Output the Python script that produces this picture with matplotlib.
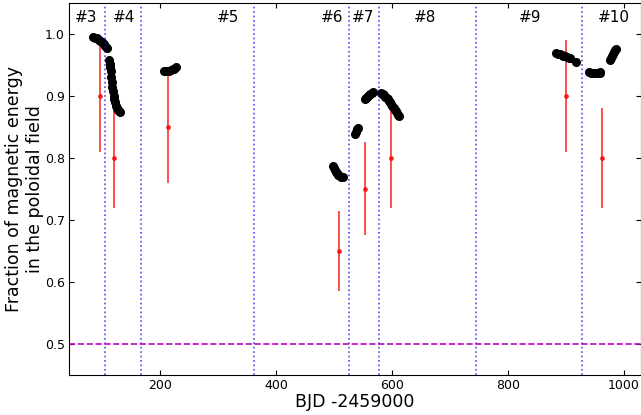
import numpy as np
import matplotlib
matplotlib.use('Agg')
import matplotlib.pyplot as plt

# black points, one pair of lists per season
x3 = [85, 88, 91, 94, 97, 100, 103, 106, 108]
y3 = [0.995, 0.994, 0.993, 0.991, 0.989, 0.987, 0.984, 0.980, 0.977]
x4 = [112, 113, 114, 115, 116, 117, 118, 119, 120, 121, 122, 124, 126, 128, 130, 131]
y4 = [0.958, 0.952, 0.946, 0.940, 0.930, 0.922, 0.915, 0.908, 0.900, 0.895, 0.890,
      0.884, 0.880, 0.877, 0.875, 0.874]
x5 = [207, 210, 213, 216, 219, 222, 225, 228]
y5 = [0.941, 0.941, 0.941, 0.941, 0.942, 0.943, 0.944, 0.946]
x6 = [498, 500, 502, 504, 506, 508, 510, 512, 515]
y6 = [0.787, 0.784, 0.781, 0.778, 0.775, 0.772, 0.771, 0.770, 0.770]
x7 = [536, 538, 540, 541, 553, 555, 557, 559, 561, 563, 565, 567]
y7 = [0.838, 0.842, 0.846, 0.848, 0.895, 0.897, 0.899, 0.900, 0.902, 0.903, 0.905, 0.906]
x8 = [581, 583, 585, 587, 589, 591, 593, 595, 597, 599, 601, 603, 605, 607, 609, 611, 612]
y8 = [0.905, 0.904, 0.903, 0.901, 0.899, 0.897, 0.895, 0.892, 0.890, 0.887, 0.884,
      0.881, 0.878, 0.875, 0.872, 0.869, 0.868]
x9 = [884, 887, 890, 893, 896, 899, 902, 905, 907, 917]
y9 = [0.969, 0.968, 0.967, 0.966, 0.965, 0.964, 0.963, 0.962, 0.961, 0.955]
x10 = [941, 944, 947, 950, 953, 956, 959, 960, 976, 978, 980, 982, 984, 986, 987]
y10 = [0.938, 0.937, 0.937, 0.937, 0.937, 0.937, 0.937, 0.938, 0.958, 0.962, 0.965,
       0.968, 0.971, 0.974, 0.976]

# red mean values with error bars
xm = [97, 121, 214, 509, 553, 598, 901, 963]
ym = [0.90, 0.80, 0.85, 0.65, 0.75, 0.80, 0.90, 0.80]
em = [0.09, 0.08, 0.09, 0.065, 0.075, 0.08, 0.09, 0.08]

# season boundaries and labels
bounds = [106, 168, 362, 526, 578, 746, 929]
labels = ['#3', '#4', '#5', '#6', '#7', '#8', '#9', '#10']
label_x = [72, 138, 317, 497, 550, 657, 838, 984]

fig = plt.figure(figsize=(6.41, 4.15), dpi=100)
ax = fig.add_axes([0.1076, 0.0964, 0.8924, 0.8964])

ax.errorbar(xm, ym, yerr=em, fmt='.', color='r', ms=5, lw=1.3, alpha=0.75, capsize=0)

for xs, ys in [(x3, y3), (x4, y4), (x5, y5), (x6, y6), (x7, y7), (x8, y8), (x9, y9), (x10, y10)]:
    ax.plot(xs, ys, 'o', color='k', ms=5.5)

for b in bounds:
    ax.axvline(b, color='b', ls=':', lw=1.2, alpha=0.7)
ax.axhline(0.5, color='m', ls='--', lw=1.2)

for lx, lab in zip(label_x, labels):
    ax.text(lx, 1.027, lab, fontsize=11, ha='center', va='center')

ax.set_xlim(43, 1030)
ax.set_ylim(0.45, 1.05)
ax.set_xticks([200, 400, 600, 800, 1000])
ax.set_yticks([0.5, 0.6, 0.7, 0.8, 0.9, 1.0])
ax.tick_params(direction='in', top=True, right=True, labelsize=9, pad=3)
ax.set_xlabel('BJD -2459000', fontsize=12.5)
ax.set_ylabel('Fraction of magnetic energy\nin the poloidal field', fontsize=12.5)
ax.xaxis.set_label_coords(0.5, -0.048)
ax.yaxis.set_label_coords(-0.044, 0.5)

plt.savefig('out.png', dpi=100)
